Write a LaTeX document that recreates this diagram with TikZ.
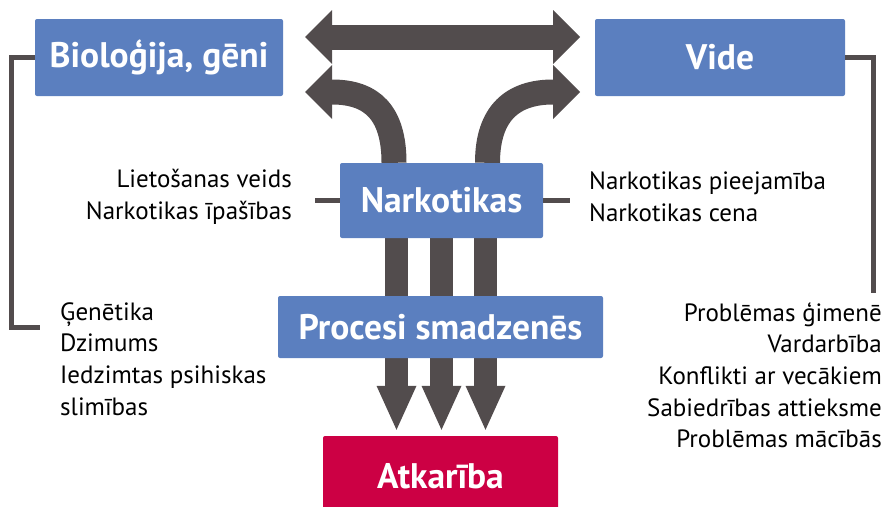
\documentclass[tikz,border=0pt]{standalone}
\usepackage{fontspec}
\setmainfont{PT Sans}
\usetikzlibrary{arrows.meta,backgrounds}
\definecolor{boxblue}{RGB}{91,127,191}
\definecolor{arrowgray}{RGB}{82,76,77}
\definecolor{addred}{RGB}{204,0,68}
\tikzset{
  box/.style={fill=boxblue, text=white, rounded corners=2pt, inner sep=0pt,
    font=\fontsize{35.5}{35.5}\selectfont\bfseries},
  note/.style={inner sep=0pt, font=\fontsize{25}{31.7}\selectfont},
  fatarrow/.style={draw=arrowgray, line width=25pt},
  headtip/.style={-{Triangle[length=27pt,width=54pt,line width=0pt]}},
  downarrow/.style={draw=arrowgray, line width=23pt,
    -{Triangle[length=44pt,width=40pt,line width=0pt]}, shorten >=6pt},
  bracket/.style={draw=arrowgray, line width=5pt}
}
\begin{document}
\begin{tikzpicture}[x=1pt,y=-1pt]
\useasboundingbox (0,0) rectangle (888,506);
\clip (0,0) rectangle (888,506);
% boxes
\node[box, minimum width=248pt, minimum height=77pt] (bio) at (159,57.5) {Bioloģija, gēni};
\node[box, minimum width=250pt, minimum height=77pt] (vide) at (720,57.5) {Vide};
\node[box, minimum width=203pt, minimum height=75pt] (nark) at (441.5,200.5) {Narkotikas};
\node[box, minimum width=325pt, minimum height=62pt] (proc) at (440.5,327) {Procesi smadzenēs};
\node[box, fill=addred, minimum width=235pt, minimum height=80pt] (atk) at (440.5,476) {Atkarība};
% arrow ends
\coordinate (topleft) at (305,37);
\coordinate (topright) at (580,37);
\coordinate (bioin) at (305,92);
\coordinate (videin) at (580,92);
\coordinate (genfoot) at (40,327);
% arrows behind the boxes
\begin{scope}[on background layer]
\draw[fatarrow, {Triangle[length=27pt,width=54pt,line width=0pt]}-{Triangle[length=27pt,width=54pt,line width=0pt]}] (topleft) -- (topright);
\draw[fatarrow, headtip] ([xshift=-47.5pt]nark.north) .. controls +(0,-50) and +(40,0) .. ([xshift=27pt]bioin) -- (bioin);
\draw[fatarrow, headtip] ([xshift=46pt]nark.north) .. controls +(0,-50) and +(-40,0) .. ([xshift=-27pt]videin) -- (videin);
\foreach \dx in {-45,0,44}
  \draw[downarrow] ([xshift=\dx pt]nark.south) -- ([xshift=\dx pt]nark.south |- atk.north);
\end{scope}
% side lines
\draw[bracket] (bio.west) -- ++(-23.5,0) |- (genfoot);
\draw[bracket] (vide.east) -- ++(28,0) -- ++(0,235.5);
\draw[bracket] (nark.west) -- ++(-25,0);
\draw[bracket] (nark.east) -- ++(27,0);
% texts
\node[note, anchor=east, align=right] (use) at (292,197) {Lietošanas veids\\Narkotikas īpašības};
\node[note, anchor=west, align=left] (avail) at (589,197) {Narkotikas pieejamība\\Narkotikas cena};
\node[note, anchor=north west, align=left] (gen) at (60,302) {Ģenētika\\Dzimums\\Iedzimtas psihiskas\\slimības};
\node[note, anchor=north east, align=right] (fam) at (882,302) {Problēmas ģimenē\\Vardarbība\\Konflikti ar vecākiem\\Sabiedrības attieksme\\Problēmas mācībās};
\end{tikzpicture}
\end{document}
